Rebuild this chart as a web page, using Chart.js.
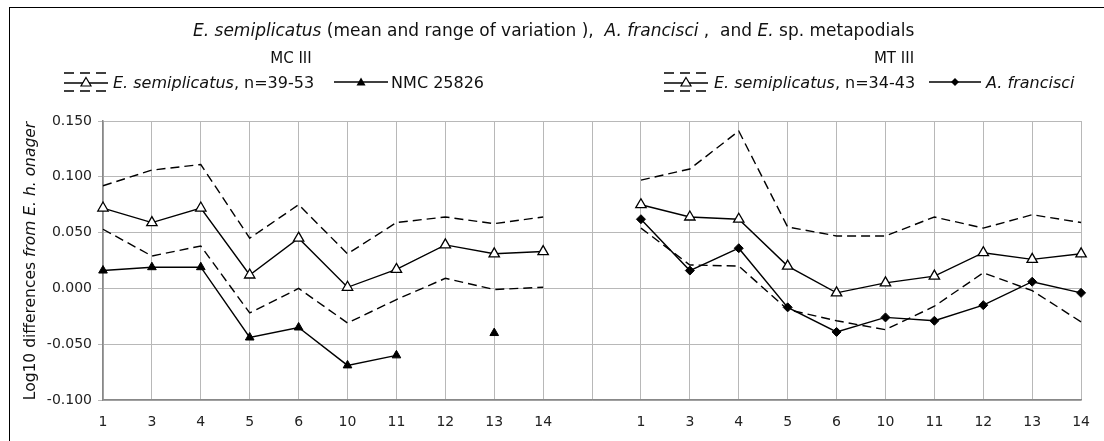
<!DOCTYPE html>
<html><head><meta charset="utf-8">
<script src="https://cdn.jsdelivr.net/npm/chart.js@4/dist/chart.umd.min.js"></script>
<style>
html,body{margin:0;padding:0;background:#fff;}
#wrap{position:relative;width:1104px;height:441px;overflow:hidden;font-family:"DejaVu Sans",sans-serif;color:#111;}
#frame{position:absolute;left:9px;top:7px;width:1200px;height:500px;border-left:1px solid #000;border-top:1px solid #000;}
canvas{position:absolute;left:0;top:0;}
.t{position:absolute;white-space:nowrap;transform:translate(-50%,-50%);}
.leg{position:absolute;white-space:nowrap;display:flex;align-items:center;transform:translateY(-50%);font-size:16px;}
.leg svg{display:block;}
#ytitle{position:absolute;left:30px;top:261px;transform:translate(-50%,-50%) rotate(-90deg);white-space:nowrap;font-size:15.5px;}
</style></head>
<body>
<div id="wrap">
<canvas id="c" width="1104" height="441"></canvas>
<div id="frame"></div>
<div class="t" style="left:193px;top:30px;font-size:17px;transform:translateY(-50%);"><i>E. semiplicatus</i> (mean and range of variation ),&nbsp; <i>A. francisci</i> ,&nbsp; and <i>E.</i> sp. metapodials</div>
<div class="t" style="left:291px;top:58px;font-size:15px;">MC III</div>
<div class="t" style="left:894px;top:58px;font-size:15px;">MT III</div>
<div class="leg" style="left:64px;top:82px;">
<svg width="44" height="24" viewBox="0 0 44 24"><g stroke="#000" stroke-width="1.4" fill="none"><line x1="0" y1="3" x2="44" y2="3" stroke-dasharray="10,6"/><line x1="0" y1="21" x2="44" y2="21" stroke-dasharray="10,6"/><line x1="0" y1="13" x2="44" y2="13"/></g><polygon points="22,7.5 27,16 17,16" fill="#fff" stroke="#000" stroke-width="1.2"/></svg>
<span style="margin-left:5px;"><i>E. semiplicatus</i>, n=39-53</span>
<svg style="margin-left:20px;" width="54" height="12" viewBox="0 0 54 12"><line x1="0" y1="6" x2="54" y2="6" stroke="#000" stroke-width="1.4"/><polygon points="27,1.5 31.5,9.5 22.5,9.5" fill="#000"/></svg>
<span style="margin-left:3px;">NMC 25826</span>
</div>
<div class="leg" style="left:664px;top:82px;">
<svg width="44" height="24" viewBox="0 0 44 24"><g stroke="#000" stroke-width="1.4" fill="none"><line x1="0" y1="3" x2="44" y2="3" stroke-dasharray="10,6"/><line x1="0" y1="21" x2="44" y2="21" stroke-dasharray="10,6"/><line x1="0" y1="13" x2="44" y2="13"/></g><polygon points="22,7.5 27,16 17,16" fill="#fff" stroke="#000" stroke-width="1.2"/></svg>
<span style="margin-left:6px;"><i>E. semiplicatus</i>, n=34-43</span>
<svg style="margin-left:14px;" width="52" height="12" viewBox="0 0 52 12"><line x1="0" y1="6" x2="52" y2="6" stroke="#000" stroke-width="1.4"/><polygon points="26,2 30,6 26,10 22,6" fill="#000"/></svg>
<span style="margin-left:5px;"><i>A. francisci</i></span>
</div>
<div id="ytitle">Log10 differences <i>from E. h. onager</i></div>
</div>
<script>
// Categories (bone measurements), same for both panels
const measures = ['1','3','4','5','6','10','11','12','13','14'];
// MC III
const mcUpper = [0.092, 0.106, 0.111, 0.045, 0.075, 0.031, 0.059, 0.064, 0.058, 0.064];
const mcMean  = [0.072, 0.059, 0.072, 0.012, 0.045, 0.001, 0.017, 0.039, 0.031, 0.033];
const mcLower = [0.053, 0.029, 0.038, -0.022, 0.000, -0.031, -0.010, 0.009, -0.001, 0.001];
const nmc     = [0.016, 0.019, 0.019, -0.044, -0.035, -0.069, -0.060, null, -0.040, null];
// MT III
const mtUpper = [0.097, 0.107, 0.141, 0.055, 0.047, 0.047, 0.064, 0.054, 0.066, 0.059];
const mtMean  = [0.075, 0.064, 0.062, 0.020, -0.004, 0.005, 0.011, 0.032, 0.026, 0.031];
const mtLower = [0.054, 0.021, 0.020, -0.019, -0.029, -0.037, -0.016, 0.014, -0.002, -0.030];
const franc   = [0.062, 0.016, 0.036, -0.017, -0.039, -0.026, -0.029, -0.015, 0.006, -0.004];
const yTicks = [-0.1, -0.05, 0, 0.05, 0.1, 0.15];

const labels = [...measures, '', ...measures];
const blank = measures.map(() => null);
const leftSide = a => [...a, null, ...blank];
const rightSide = a => [...blank, null, ...a];

const dashed = (data) => ({data, borderColor:'#000', borderWidth:1.4, borderDash:[9,5], pointRadius:0, fill:false, spanGaps:false});
const meanDs = (data) => ({data, borderColor:'#000', borderWidth:1.4, pointStyle:'triangle', pointRadius:6, pointBackgroundColor:'#fff', pointBorderColor:'#000', pointBorderWidth:1.3, fill:false, spanGaps:false});

const datasets = [
  dashed(leftSide(mcUpper)), dashed(leftSide(mcLower)),
  dashed(rightSide(mtUpper)), dashed(rightSide(mtLower)),
  {data:leftSide(nmc), borderColor:'#000', borderWidth:1.4, pointStyle:'triangle', pointRadius:5, pointBackgroundColor:'#000', pointBorderColor:'#000', pointBorderWidth:1, spanGaps:false},
  {data:rightSide(franc), borderColor:'#000', borderWidth:1.4, pointStyle:'rectRot', pointRadius:4.5, pointBackgroundColor:'#000', pointBorderColor:'#000', pointBorderWidth:1, spanGaps:false},
  meanDs(leftSide(mcMean)), meanDs(rightSide(mtMean))
];

const tickFont = {family:'"DejaVu Sans", sans-serif', size:14};
new Chart(document.getElementById('c'), {
  type:'line',
  data:{labels, datasets},
  options:{
    responsive:false, animation:false, devicePixelRatio:1,
    layout:{padding:{left:0, right:14, top:121, bottom:0}},
    plugins:{legend:{display:false}, tooltip:{enabled:false}, title:{display:false}},
    elements:{line:{tension:0}},
    scales:{
      x:{type:'category', offset:false,
         grid:{color:'#b8b8b8', lineWidth:1, drawTicks:false},
         border:{color:'#888', width:1.5},
         ticks:{color:'#222', font:tickFont, padding:14, maxRotation:0, autoSkip:false},
         afterFit(s){ s.height = 41; }},
      y:{min:yTicks[0], max:yTicks[yTicks.length-1],
         afterBuildTicks(s){ s.ticks = yTicks.map(v => ({value:v})); },
         ticks:{color:'#222', font:tickFont, padding:6, callback:v => (Math.abs(v)<1e-9?0:v).toFixed(3)},
         grid:{color:'#b8b8b8', lineWidth:1, tickLength:5},
         border:{color:'#888', width:1.5},
         afterFit(s){ s.width = 103; }}
    }
  }
});
</script>
</body></html>
